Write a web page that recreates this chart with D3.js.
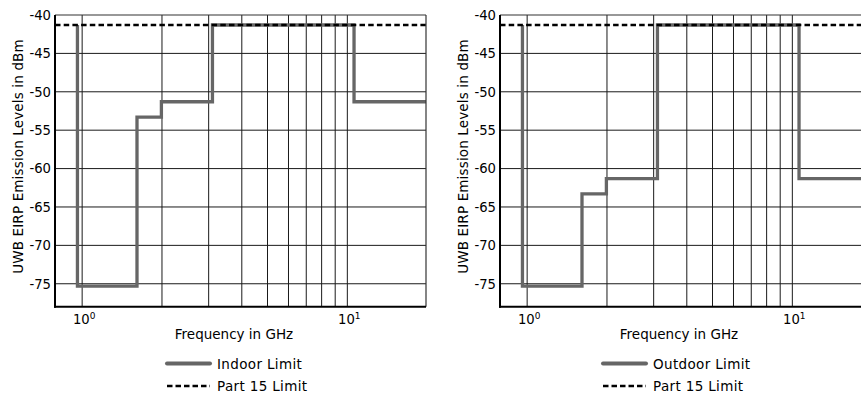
<!DOCTYPE html>
<html>
<head>
<meta charset="utf-8">
<script src="https://cdn.jsdelivr.net/npm/d3@7/dist/d3.min.js"></script>
<style>
  html, body { margin: 0; padding: 0; background: #fff; }
  svg { display: block; }
  text { font-family: "DejaVu Sans", "Liberation Sans", Arial, sans-serif; fill: #000; }
</style>
</head>
<body>
<svg id="chart" width="861" height="394"></svg>
<script>
// UWB emission masks (FCC), frequencies in GHz, levels in dBm EIRP
const bandEdges = [0.96, 1.61, 1.99, 3.1, 10.6, 19.8];
const indoorLevels = [-75.3, -53.3, -51.3, -41.3, -51.3];
const outdoorLevels = [-75.3, -63.3, -61.3, -41.3, -61.3];
const part15Level = -41.3;
const freqGrid = [1, 2, 3, 4, 5, 6, 7, 8, 9, 10];
const freqLabels = [{ f: 1, exp: "0" }, { f: 10, exp: "1" }];
const levelTicks = [-40, -45, -50, -55, -60, -65, -70, -75];
const freqDomain = [0.79, 19.8];
const levelDomain = [-78, -40];

const panels = [
  { left: 55, levels: indoorLevels, name: "Indoor Limit", legendX: 112 },
  { left: 500, levels: outdoorLevels, name: "Outdoor Limit", legendX: 103 }
];

const svg = d3.select("#chart");
const plotW = 371, plotTop = 15, plotH = 291.8;

panels.forEach(p => {
  const g = svg.append("g").attr("transform", `translate(${p.left},${plotTop})`);
  const x = d3.scaleLog().domain(freqDomain).range([0, plotW]);
  const y = d3.scaleLinear().domain(levelDomain).range([plotH, 0]);

  // grid
  g.append("g").selectAll("line").data(freqGrid).join("line")
    .attr("x1", d => x(d)).attr("x2", d => x(d))
    .attr("y1", 0).attr("y2", plotH)
    .attr("stroke", "#1a1a1a").attr("stroke-width", 1);
  g.append("g").selectAll("line").data(levelTicks.slice(1)).join("line")
    .attr("x1", 0).attr("x2", plotW)
    .attr("y1", d => y(d)).attr("y2", d => y(d))
    .attr("stroke", "#1a1a1a").attr("stroke-width", 1);

  // mask as a step line
  const pts = [{ f: bandEdges[0], v: part15Level }];
  p.levels.forEach((v, i) => pts.push({ f: bandEdges[i], v }));
  pts.push({ f: bandEdges[bandEdges.length - 1], v: p.levels[p.levels.length - 1] });
  const line = d3.line().x(d => x(d.f)).y(d => y(d.v)).curve(d3.curveStepAfter);
  g.append("path").datum(pts).attr("d", line)
    .attr("fill", "none").attr("stroke", "#666").attr("stroke-width", 3.3)
    .attr("stroke-linejoin", "miter");

  // Part 15 limit
  g.append("line")
    .attr("x1", 0).attr("x2", plotW)
    .attr("y1", y(part15Level)).attr("y2", y(part15Level))
    .attr("stroke", "#000").attr("stroke-width", 2.7)
    .attr("stroke-dasharray", "5.5,3.2");

  // frame
  g.append("line").attr("x1", 0).attr("x2", plotW).attr("y1", 0).attr("y2", 0)
    .attr("stroke", "#333").attr("stroke-width", 1.2);
  g.append("line").attr("x1", plotW).attr("x2", plotW).attr("y1", 0).attr("y2", plotH)
    .attr("stroke", "#333").attr("stroke-width", 1.2);
  g.append("line").attr("x1", 0).attr("x2", 0).attr("y1", 0).attr("y2", plotH + 1)
    .attr("stroke", "#000").attr("stroke-width", 2);
  g.append("line").attr("x1", -1).attr("x2", plotW).attr("y1", plotH).attr("y2", plotH)
    .attr("stroke", "#000").attr("stroke-width", 2);

  // y tick labels
  g.append("g").selectAll("text").data(levelTicks).join("text")
    .attr("x", -4).attr("y", d => y(d) + 4.8)
    .attr("text-anchor", "end").attr("font-size", 13.2)
    .text(d => d);

  // x tick labels (powers of ten)
  freqLabels.forEach(t => {
    const tx = g.append("text").attr("x", x(t.f) + 2).attr("y", plotH + 17.5)
      .attr("text-anchor", "middle").attr("font-size", 13.2);
    tx.append("tspan").text("10");
    tx.append("tspan").attr("dy", -5).attr("font-size", 9).text(t.exp);
  });

  // axis titles
  g.append("text").attr("x", 179).attr("y", plotH + 32)
    .attr("text-anchor", "middle").attr("font-size", 13.5)
    .text("Frequency in GHz");
  g.append("text")
    .attr("transform", `translate(-32.5,${141.5}) rotate(-90)`)
    .attr("text-anchor", "middle").attr("font-size", 13.5)
    .attr("letter-spacing", 0.15)
    .text("UWB EIRP Emission Levels in dBm");

  // legend
  const lg = g.append("g")
    .attr("transform", `translate(${p.legendX},${363.5 - plotTop})`);
  const items = [
    { label: p.name, dash: null, color: "#666", w: 4 },
    { label: "Part 15 Limit", dash: "5.5,3", color: "#000", w: 2.7 }
  ];
  const rows = lg.selectAll("g").data(items).join("g")
    .attr("transform", (d, i) => `translate(0,${i * 22.5})`);
  rows.append("line").attr("x1", 0).attr("x2", 43).attr("y1", 0).attr("y2", 0)
    .attr("stroke", d => d.color).attr("stroke-width", d => d.w)
    .attr("stroke-linecap", d => d.dash ? "butt" : "round")
    .attr("stroke-dasharray", d => d.dash);
  rows.append("text").attr("x", 50).attr("y", 5).attr("font-size", 13.5)
    .attr("letter-spacing", 0.35)
    .text(d => d.label);
});
</script>
</body>
</html>
